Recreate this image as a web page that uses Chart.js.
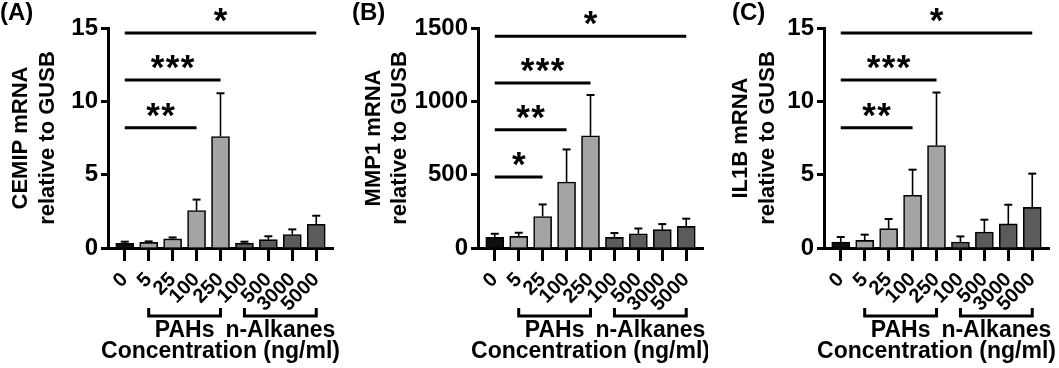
<!DOCTYPE html>
<html>
<head>
<meta charset="utf-8">
<script src="https://cdn.jsdelivr.net/npm/chart.js@4/dist/chart.umd.min.js"></script>
<style>
  body { margin: 0; background: #fff; width: 1059px; height: 368px; position: relative; overflow: hidden; }
  canvas { position: absolute; top: 0; }
</style>
</head>
<body>
<canvas id="chartA" width="350" height="368" style="left:0px"></canvas>
<canvas id="chartB" width="358" height="368" style="left:350px"></canvas>
<canvas id="chartC" width="341" height="368" style="left:718px"></canvas>
<script>
const FONT = "'Liberation Sans', Arial, sans-serif";

// categories (concentration, ng/ml)
const concLabels = ["0", "5", "25", "100", "250", "100", "500", "3000", "5000"];
const barColors = ["#0e0e0e", "#a4a4a7", "#a4a4a7", "#a4a4a7", "#a4a4a7",
                   "#5b5b5b", "#5b5b5b", "#5b5b5b", "#5b5b5b"];
const groups = [[1, 4, "PAHs"], [5, 8, "n-Alkanes"]];

// (A) CEMIP
const cemipMean = [0.32, 0.38, 0.62, 2.55, 7.6, 0.33, 0.57, 0.92, 1.62];
const cemipSd   = [0.11, 0.07, 0.10, 0.75, 2.95, 0.10, 0.23, 0.35, 0.58];
const cemipTicks = [0, 5, 10, 15];
const cemipSig = [[0, 8, 14.66, "*"], [0, 4, 11.45, "***"], [0, 3, 8.2, "**"]];

// (B) MMP1
const mmp1Mean = [72, 79, 215, 450, 765, 72, 97, 125, 147];
const mmp1Sd   = [25, 25, 82, 222, 278, 30, 36, 38, 53];
const mmp1Ticks = [0, 500, 1000, 1500];
const mmp1Sig = [[0, 8, 1443, "*"], [0, 4, 1125, "***"], [0, 3, 807, "**"], [0, 2, 484, "*"]];

// (C) IL1B
const il1bMean = [0.41, 0.52, 1.32, 3.59, 6.99, 0.41, 1.09, 1.64, 2.77];
const il1bSd   = [0.34, 0.39, 0.66, 1.75, 3.61, 0.38, 0.84, 1.31, 2.30];
const il1bTicks = [0, 5, 10, 15];
const il1bSig = [[0, 8, 14.66, "*"], [0, 4, 11.45, "***"], [0, 3, 8.2, "**"]];

// error bars (mean + SD, upper only)
const errorBars = {
  id: "errorBars",
  afterDatasetsDraw(chart, args, opts) {
    const ctx = chart.ctx;
    const y = chart.scales.y;
    const meta = chart.getDatasetMeta(0);
    const vals = chart.data.datasets[0].data;
    ctx.save();
    ctx.strokeStyle = "#000";
    meta.data.forEach((bar, i) => {
      const top = y.getPixelForValue(vals[i].y + opts.sd[i]);
      ctx.lineWidth = 1.6;
      ctx.beginPath();
      ctx.moveTo(bar.x, bar.y);
      ctx.lineTo(bar.x, top);
      ctx.stroke();
      ctx.lineWidth = 2;
      ctx.beginPath();
      ctx.moveTo(bar.x - 4, top);
      ctx.lineTo(bar.x + 4, top);
      ctx.stroke();
    });
    ctx.restore();
  }
};

// significance lines, brackets, titles
const extras = {
  id: "extras",
  afterDraw(chart, args, opts) {
    const ctx = chart.ctx;
    const x = chart.scales.x, y = chart.scales.y;
    const area = chart.chartArea;
    ctx.save();
    ctx.fillStyle = "#000";
    ctx.strokeStyle = "#000";

    // significance lines + stars
    opts.sig.forEach(s => {
      const x0 = x.getPixelForValue(s[0]), x1 = x.getPixelForValue(s[1]);
      const py = y.getPixelForValue(s[2]);
      ctx.lineWidth = 3;
      ctx.beginPath();
      ctx.moveTo(x0, py);
      ctx.lineTo(x1, py);
      ctx.stroke();
      ctx.font = "bold 35px " + FONT;
      ctx.textAlign = "center";
      ctx.textBaseline = "alphabetic";
      const n = s[3].length, gap = 15;
      const cx = (x0 + x1) / 2;
      for (let k = 0; k < n; k++) {
        ctx.fillText("*", cx + (k - (n - 1) / 2) * gap, py - 1);
      }
    });

    // group brackets
    const by = area.bottom + 68;
    groups.forEach(g => {
      const x0 = x.getPixelForValue(g[0]), x1 = x.getPixelForValue(g[1]);
      ctx.lineWidth = 3;
      ctx.beginPath();
      ctx.moveTo(x0, by - 8);
      ctx.lineTo(x0, by);
      ctx.lineTo(x1, by);
      ctx.lineTo(x1, by - 8);
      ctx.stroke();
      ctx.font = "bold 23px " + FONT;
      ctx.textAlign = "center";
      ctx.textBaseline = "middle";
      ctx.fillText(g[2], (x0 + x1) / 2, area.bottom + 83);
    });
    ctx.fillText("Concentration (ng/ml)", (area.left + area.right) / 2, area.bottom + 104);

    // y title (two lines)
    ctx.font = "bold 22px " + FONT;
    const midY = (area.top + area.bottom) / 2;
    opts.yTitle.forEach((t, i) => {
      ctx.save();
      ctx.translate(opts.yTitleX[i], midY);
      ctx.rotate(-Math.PI / 2);
      ctx.fillText(t, 0, 0);
      ctx.restore();
    });

    // panel label
    ctx.font = "bold 24px " + FONT;
    ctx.textAlign = "left";
    ctx.fillText(opts.panel, opts.panelX, 13);
    ctx.restore();
  }
};

function makePanel(id, mean, sd, yTicks, sig, yTitle, yTitleX, panel, panelX, yW) {
  const canvas = document.getElementById(id);
  const padRight = canvas.width - yW - 225;
  new Chart(canvas, {
    type: "bar",
    data: {
      datasets: [{
        data: mean.map((v, i) => ({ x: i, y: v })),
        backgroundColor: barColors,
        borderColor: "#000",
        borderWidth: 1.6,
        barThickness: 18
      }]
    },
    options: {
      responsive: false,
      animation: false,
      layout: { padding: { top: 28, right: padRight, left: 0, bottom: 0 } },
      plugins: {
        legend: { display: false },
        tooltip: { enabled: false },
        errorBars: { sd: sd },
        extras: { sig: sig, yTitle: yTitle, yTitleX: yTitleX, panel: panel, panelX: panelX }
      },
      scales: {
        x: {
          type: "linear",
          offset: false,
          min: -0.7,
          max: 8.7,
          afterBuildTicks: s => { s.ticks = concLabels.map((l, i) => ({ value: i })); },
          afterFit: s => { s.height = 120; s.paddingLeft = 0; s.paddingRight = 0; },
          ticks: {
            callback: (v, i) => concLabels[i],
            autoSkip: false,
            maxRotation: 45,
            minRotation: 45,
            padding: 7,
            color: "#000",
            font: { family: FONT, size: 20, weight: "bold" }
          },
          grid: { offset: false, drawOnChartArea: false, drawTicks: true, tickLength: 13, tickWidth: 3, tickColor: "#000" },
          border: { display: true, color: "#000", width: 3 }
        },
        y: {
          min: 0,
          max: yTicks[yTicks.length - 1],
          afterBuildTicks: s => { s.ticks = yTicks.map(v => ({ value: v })); },
          afterFit: s => { s.width = yW; },
          ticks: {
            callback: v => String(v),
            padding: 3,
            color: "#000",
            font: { family: FONT, size: 24, weight: "bold" }
          },
          grid: { drawOnChartArea: false, drawTicks: true, tickLength: 7, tickWidth: 3, tickColor: "#000" },
          border: { display: true, color: "#000", width: 3 }
        }
      }
    },
    plugins: [errorBars, extras]
  });
}

makePanel("chartA", cemipMean, cemipSd, cemipTicks, cemipSig,
  ["CEMIP mRNA", "relative to GUSB"], [21, 48], "(A)", 0, 108);
makePanel("chartB", mmp1Mean, mmp1Sd, mmp1Ticks, mmp1Sig,
  ["MMP1 mRNA", "relative to GUSB"], [24, 50], "(B)", 2, 128);
makePanel("chartC", il1bMean, il1bSd, il1bTicks, il1bSig,
  ["IL1B mRNA", "relative to GUSB"], [23, 50], "(C)", 14, 106);
</script>
</body>
</html>
